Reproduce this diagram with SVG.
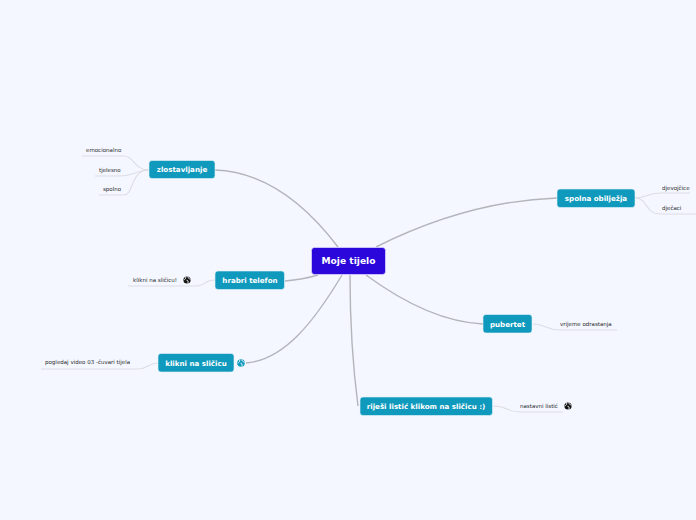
<svg xmlns="http://www.w3.org/2000/svg" width="696" height="520" viewBox="0 0 696 520">
<style>
text{font-family:"DejaVu Sans",sans-serif}
.m{fill:none;stroke:#b4b5bb;stroke-width:1.4}
.s{fill:none;stroke:#dddee3;stroke-width:1.1}
.c{fill:#0f99bd;stroke:#e8f4f8;stroke-width:.6}
.t{fill:#fff;font-size:7.1px;font-weight:700;text-anchor:middle}
.l{fill:#2a2a2a;font-size:5.5px}
.g{fill:#111}
.gl{fill:none;stroke:#fff;stroke-width:.9}
</style>
<defs>
<g id="globe"><circle r="3.6" class="g"/><path class="gl" d="M-1.5-3.2C-.5-1.5-2.5-1-2.8.2M.5-3.4C1-1.5 3-1.5 3.2-.5M-.5.2C1 0 1.5 1.5.8 3.4"/></g>
</defs>
<rect width="696" height="520" fill="#f4f7ff"/>
<g id="connectors">
<path class="m" d="M215 170C270 172 310 210 338 247"/>
<path class="m" d="M376 247C440 215 500 200 557 198"/>
<path class="m" d="M285 281C297 280 308 278 318 275"/>
<path class="m" d="M366 275C400 300 440 322 483 324"/>
<path class="m" d="M246 363C285 360 315 320 342 275"/>
<path class="m" d="M350 275C350 320 352 360 358 406"/>
<path class="s" d="M82 156H124C134 156 134 170 149 170"/>
<path class="s" d="M95 176H120C134 176 136 170 149 170"/>
<path class="s" d="M99 195H124C134 195 130 170 149 170"/>
<path class="s" d="M635 198C645 198 648 193 660 193H690"/>
<path class="s" d="M635 198C648 198 645 214 660 214H696"/>
<path class="s" d="M128 286H196C206 286 204 280 215 280"/>
<path class="s" d="M41 369H138C148 369 148 363 158 363"/>
<path class="s" d="M533 324C546 324 546 330 560 330H617"/>
<path class="s" d="M493 406C508 406 506 412 520 412H563"/>
</g>
<g id="root"><rect x="311.500" y="247.500" width="74" height="27" rx="3" fill="#2c07db" stroke="#f0efff" stroke-width=".6"/><text x="348.500" y="264" text-anchor="middle" fill="#fff" font-size="9.100" font-weight="700">Moje tijelo</text></g>
<g id="zlostavljanje"><rect class="c" x="149" y="160.500" width="66" height="18" rx="3"/><text class="t" x="182" y="172">zlostavljanje</text></g>
<g id="spolna"><rect class="c" x="557" y="189" width="78" height="18.500" rx="3"/><text class="t" x="596" y="201">spolna obilježja</text></g>
<g id="hrabri"><rect class="c" x="215" y="271" width="69.500" height="18.500" rx="3"/><text class="t" x="250" y="283">hrabri telefon</text></g>
<g id="pubertet"><rect class="c" x="483" y="314.500" width="49" height="18.500" rx="3"/><text class="t" x="507.500" y="326.500">pubertet</text></g>
<g id="klikni"><rect class="c" x="158" y="353.500" width="76" height="18.500" rx="3"/><text class="t" x="196" y="365.500">klikni na sličicu</text></g>
<g id="rijesi"><rect class="c" x="360" y="397" width="132.500" height="18.500" rx="3"/><text class="t" x="426" y="409">riješi listić klikom na sličicu :)</text></g>
<g id="emocionalno"><text class="l" x="86" y="152">emocionalno</text></g>
<g id="tjelesno"><text class="l" x="99" y="171.500">tjelesno</text></g>
<g id="spolno"><text class="l" x="103" y="191">spolno</text></g>
<g id="djevojcice"><text class="l" x="662" y="190">djevojčice</text></g>
<g id="djecaci"><text class="l" x="662" y="210">dječaci</text></g>
<g id="klikni-slicicu"><text class="l" x="133" y="282">klikni na sličicu!</text><use href="#globe" x="187" y="280"/></g>
<g id="pogledaj"><text class="l" x="45" y="364">pogledaj video 03 -čuvari tijela</text></g>
<g id="globe-klikni"><circle cx="241" cy="363" r="3.800" fill="#0f99bd"/><path class="gl" d="M239.500 359.800C240.500 361.500 238.500 362 238.200 363.200M241.500 359.600C242 361.500 244 361.500 244.200 362.500M240.500 363.200C242 363 242.500 364.500 241.800 366.400"/></g>
<g id="vrijeme"><text class="l" x="560" y="326">vrijeme odrastanja</text></g>
<g id="nastavni"><text class="l" x="520" y="408">nastavni listić</text><use href="#globe" x="568" y="406"/></g>
</svg>
